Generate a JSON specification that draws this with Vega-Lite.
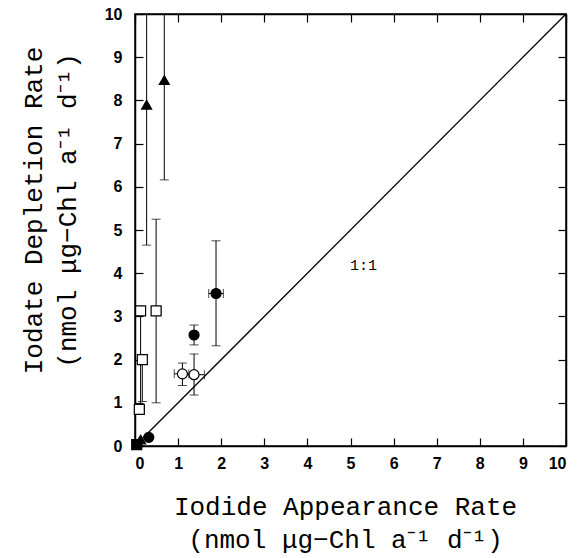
{
  "$schema": "https://vega.github.io/schema/vega-lite/v6.json",
  "width": 431,
  "height": 432,
  "autosize": "none",
  "padding": {"left": 135, "top": 14, "right": 13, "bottom": 112},
  "background": "white",
  "config": {
    "view": {"stroke": "black", "strokeWidth": 1.5},
    "axis": {
      "domainColor": "black", "domainWidth": 1.5,
      "tickColor": "black", "tickWidth": 1.2, "tickSize": -8,
      "labelColor": "black", "labelFont": "Liberation Sans", "labelFontWeight": "bold", "labelFontSize": 16,
      "titleColor": "black", "titleFont": "Liberation Mono", "titleFontWeight": "normal", "titleFontSize": 26,
      "grid": false
    }
  },
  "datasets": {
    "pts": [
      {"x": 1.37, "y": 2.57, "series": "A"},
      {"x": 1.88, "y": 3.53, "series": "A"},
      {"x": 0.32, "y": 0.2, "series": "A"},
      {"x": 1.1, "y": 1.67, "series": "B"},
      {"x": 1.37, "y": 1.65, "series": "B"},
      {"x": 0.27, "y": 7.9, "series": "C"},
      {"x": 0.68, "y": 8.47, "series": "C"},
      {"x": 0.13, "y": 0.15, "series": "C"},
      {"x": 0.13, "y": 3.13, "series": "D"},
      {"x": 0.49, "y": 3.13, "series": "D"},
      {"x": 0.17, "y": 2.0, "series": "D"},
      {"x": 0.1, "y": 0.85, "series": "D"},
      {"x": 0.04, "y": 0.03, "series": "E"}
    ],
    "yerr": [
      {"x": 1.37, "lo": 2.34, "hi": 2.8},
      {"x": 1.88, "lo": 2.32, "hi": 4.75},
      {"x": 1.1, "lo": 1.4, "hi": 1.92},
      {"x": 1.37, "lo": 1.18, "hi": 2.13},
      {"x": 0.27, "lo": 4.65, "hi": 12},
      {"x": 0.68, "lo": 6.16, "hi": 12},
      {"x": 0.13, "lo": 0.9, "hi": 3.22},
      {"x": 0.49, "lo": 1.0, "hi": 5.25},
      {"x": 0.17, "lo": 1.03, "hi": 2.05}
    ],
    "xerr": [
      {"y": 3.53, "lo": 1.71, "hi": 2.05},
      {"y": 1.67, "lo": 0.91, "hi": 1.25},
      {"y": 1.65, "lo": 1.13, "hi": 1.61},
      {"y": 3.13, "lo": 0.4, "hi": 0.6},
      {"y": 3.13, "lo": 0.06, "hi": 0.2},
      {"y": 0.85, "lo": 0.04, "hi": 0.22}
    ],
    "diag": [{"x": 0, "y": 0}, {"x": 10, "y": 10}],
    "lab": [{"x": 5.3, "y": 4.2, "t": "1:1"}]
  },
  "layer": [
    {
      "layer": [
        {
          "data": {"name": "diag"},
          "mark": {"type": "line", "color": "black", "strokeWidth": 1.3, "clip": true},
          "encoding": {
            "x": {"field": "x", "type": "quantitative",
                  "scale": {"domain": [0, 10], "nice": false},
                  "axis": {"orient": "bottom", "values": [0,1,2,3,4,5,6,7,8,9,10], "labelPadding": 17,
                           "title": ["Iodide Appearance Rate", "(nmol μg−Chl a⁻¹ d⁻¹)"], "titleLineHeight": 33,
                           "titleBaseline": "alphabetic", "titleY": 68, "titleX": 210}},
            "y": {"field": "y", "type": "quantitative",
                  "scale": {"domain": [0, 10], "nice": false},
                  "axis": {"orient": "left", "values": [0,1,2,3,4,5,6,7,8,9,10], "labelPadding": 21,
                           "title": ["Iodate Depletion Rate", "(nmol μg−Chl a⁻¹ d⁻¹)"], "titleLineHeight": 34,
                           "titleBaseline": "middle", "titleX": -102, "titleY": 196}}
          }
        },
        {
          "data": {"name": "yerr"},
          "mark": {"type": "rule", "color": "black", "strokeWidth": 1, "clip": true},
          "encoding": {
            "x": {"field": "x", "type": "quantitative"},
            "y": {"field": "lo", "type": "quantitative"},
            "y2": {"field": "hi"}
          }
        },
        {
          "data": {"name": "yerr"},
          "mark": {"type": "tick", "color": "black", "orient": "horizontal", "size": 9, "thickness": 1, "clip": true},
          "encoding": {
            "x": {"field": "x", "type": "quantitative"},
            "y": {"field": "lo", "type": "quantitative"}
          }
        },
        {
          "data": {"name": "yerr"},
          "mark": {"type": "tick", "color": "black", "orient": "horizontal", "size": 9, "thickness": 1, "clip": true},
          "encoding": {
            "x": {"field": "x", "type": "quantitative"},
            "y": {"field": "hi", "type": "quantitative"}
          }
        },
        {
          "data": {"name": "xerr"},
          "mark": {"type": "rule", "color": "black", "strokeWidth": 1, "clip": true},
          "encoding": {
            "y": {"field": "y", "type": "quantitative"},
            "x": {"field": "lo", "type": "quantitative"},
            "x2": {"field": "hi"}
          }
        },
        {
          "data": {"name": "xerr"},
          "mark": {"type": "tick", "color": "black", "orient": "vertical", "size": 9, "thickness": 1, "clip": true},
          "encoding": {
            "y": {"field": "y", "type": "quantitative"},
            "x": {"field": "lo", "type": "quantitative"}
          }
        },
        {
          "data": {"name": "xerr"},
          "mark": {"type": "tick", "color": "black", "orient": "vertical", "size": 9, "thickness": 1, "clip": true},
          "encoding": {
            "y": {"field": "y", "type": "quantitative"},
            "x": {"field": "hi", "type": "quantitative"}
          }
        },
        {
          "data": {"name": "pts"},
          "mark": {"type": "point", "stroke": "black", "strokeWidth": 1.2, "opacity": 1, "size": 100},
          "encoding": {
            "x": {"field": "x", "type": "quantitative"},
            "y": {"field": "y", "type": "quantitative"},
            "shape": {"field": "series", "type": "nominal", "legend": null,
                      "scale": {"domain": ["A","B","C","D","E"], "range": ["circle","circle","triangle-up","square","square"]}},
            "fill": {"field": "series", "type": "nominal", "legend": null,
                     "scale": {"domain": ["A","B","C","D","E"], "range": ["black","white","black","white","black"]}}
          }
        },
        {
          "data": {"name": "lab"},
          "mark": {"type": "text", "font": "Liberation Mono", "fontSize": 15, "color": "black"},
          "encoding": {
            "x": {"field": "x", "type": "quantitative"},
            "y": {"field": "y", "type": "quantitative"},
            "text": {"field": "t"}
          }
        }
      ]
    },
    {
      "data": {"name": "diag"},
      "mark": {"type": "point", "opacity": 0},
      "encoding": {
        "x": {"field": "x", "type": "quantitative", "axis": {"orient": "top", "values": [0,1,2,3,4,5,6,7,8,9,10], "labels": false, "title": null}},
        "y": {"field": "y", "type": "quantitative", "axis": {"orient": "right", "values": [0,1,2,3,4,5,6,7,8,9,10], "labels": false, "title": null}}
      }
    }
  ],
  "resolve": {"axis": {"x": "independent", "y": "independent"}}
}
